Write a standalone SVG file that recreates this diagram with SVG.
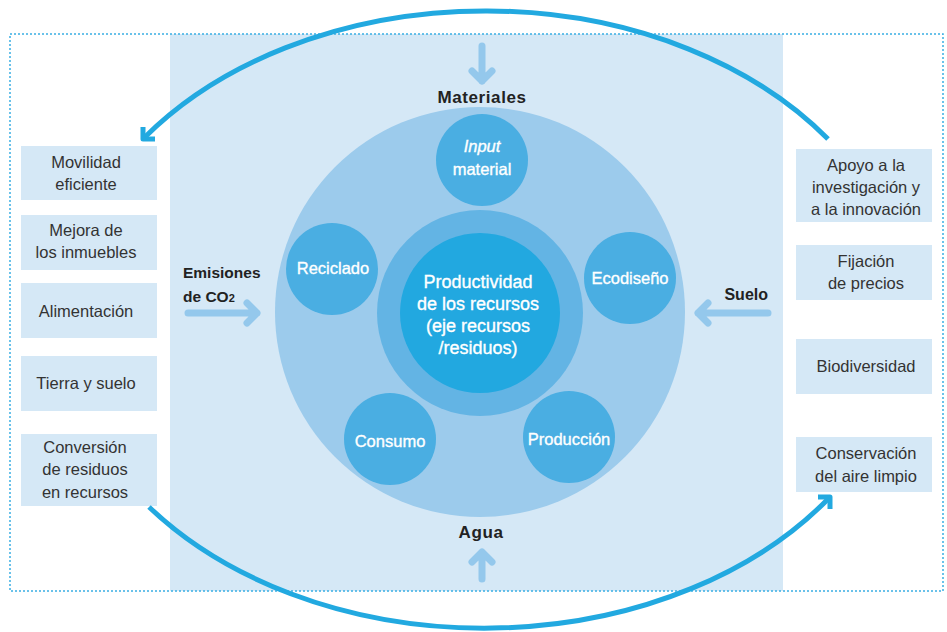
<svg xmlns="http://www.w3.org/2000/svg" width="947" height="632" viewBox="0 0 947 632">
<style>
.box{fill:#d5e8f6}
.bt{font-family:"Liberation Sans",Arial,sans-serif;font-size:16.5px;fill:#333;text-anchor:middle}
.lab{font-family:"Liberation Sans",Arial,sans-serif;font-weight:bold;fill:#222}
.sc{fill:#4aaee2}
.ct{font-family:"Liberation Sans",Arial,sans-serif;font-size:16.5px;fill:#fff;stroke:#fff;stroke-width:0.35;text-anchor:middle}
.sa{fill:none;stroke:#94c8ec;stroke-width:7;stroke-linecap:round;stroke-linejoin:round}
.ba{fill:none;stroke:#22a9e0;stroke-width:5;stroke-linecap:butt;stroke-linejoin:round}
</style>
<rect x="0" y="0" width="947" height="632" fill="#fff"/>
<rect id="bg" x="170" y="34" width="613" height="557" fill="#d5e8f6"/>
<rect id="frame" x="10" y="34" width="933" height="557" fill="none" stroke="#3aaee4" stroke-width="1.5" stroke-dasharray="2 2"/>
<g id="big-circle"><circle cx="480" cy="312" r="205" fill="#9ccbec"/></g>
<g id="ring"><circle cx="480" cy="313" r="103" fill="#63b4e4"/></g>
<g id="center">
<circle cx="480" cy="313" r="80" fill="#22a8e0"/>
<text class="ct" x="478" y="288" style="font-size:18px">Productividad</text>
<text class="ct" x="478" y="310" style="font-size:18px">de los recursos</text>
<text class="ct" x="478" y="332" style="font-size:18px">(eje recursos</text>
<text class="ct" x="478" y="354" style="font-size:18px">/residuos)</text>
</g>
<g id="input-material"><circle class="sc" cx="482" cy="160" r="46"/>
<text class="ct" x="482" y="152" font-style="italic">Input</text>
<text class="ct" x="482" y="175">material</text></g>
<g id="reciclado"><circle class="sc" cx="332" cy="269" r="46"/>
<text class="ct" x="333" y="274">Reciclado</text></g>
<g id="ecodiseno"><circle class="sc" cx="630" cy="278" r="46"/>
<text class="ct" x="630" y="284">Ecodiseño</text></g>
<g id="consumo"><circle class="sc" cx="390" cy="439" r="46"/>
<text class="ct" x="390" y="447">Consumo</text></g>
<g id="produccion"><circle class="sc" cx="569" cy="437" r="46"/>
<text class="ct" x="569" y="445">Producción</text></g>

<g id="materiales"><text class="lab" x="482" y="103" text-anchor="middle" font-size="17" letter-spacing="0.6">Materiales</text></g>
<g id="agua"><text class="lab" x="481" y="538" text-anchor="middle" font-size="17" letter-spacing="0.6">Agua</text></g>
<g id="emisiones"><text class="lab" x="183" y="278" font-size="15.5">Emisiones</text>
<text class="lab" x="183" y="302" font-size="15.5">de CO<tspan font-size="11">2</tspan></text></g>
<g id="suelo"><text class="lab" x="768" y="300" text-anchor="end" font-size="16">Suelo</text></g>

<g id="left-1"><rect class="box" x="21" y="146" width="136" height="54"/>
<text class="bt" x="86" y="168">Movilidad</text><text class="bt" x="86" y="190">eficiente</text></g>
<g id="left-2"><rect class="box" x="21" y="215" width="136" height="55"/>
<text class="bt" x="86" y="236">Mejora de</text><text class="bt" x="86" y="258">los inmuebles</text></g>
<g id="left-3"><rect class="box" x="21" y="283" width="136" height="55"/>
<text class="bt" x="86" y="317">Alimentación</text></g>
<g id="left-4"><rect class="box" x="21" y="356" width="136" height="55"/>
<text class="bt" x="86" y="389">Tierra y suelo</text></g>
<g id="left-5"><rect class="box" x="21" y="434" width="136" height="72"/>
<text class="bt" x="85" y="453">Conversión</text><text class="bt" x="85" y="475">de residuos</text><text class="bt" x="85" y="498">en recursos</text></g>

<g id="right-1"><rect class="box" x="796" y="149" width="136" height="73"/>
<text class="bt" x="866" y="171">Apoyo a la</text><text class="bt" x="866" y="193">investigación y</text><text class="bt" x="866" y="215">a la innovación</text></g>
<g id="right-2"><rect class="box" x="796" y="245" width="136" height="55"/>
<text class="bt" x="866" y="267">Fijación</text><text class="bt" x="866" y="289">de precios</text></g>
<g id="right-3"><rect class="box" x="796" y="339" width="136" height="55"/>
<text class="bt" x="866" y="372">Biodiversidad</text></g>
<g id="right-4"><rect class="box" x="796" y="437" width="136" height="55"/>
<text class="bt" x="866" y="459">Conservación</text><text class="bt" x="866" y="482">del aire limpio</text></g>

<g id="connectors">
<path class="sa" d="M482 46 V81 M472 71 L482 81 L492 71"/>
<path class="sa" d="M482 579 V552 M472 562 L482 552 L492 562"/>
<path class="sa" d="M188 313 H257 M247 303 L257 313 L247 323"/>
<path class="sa" d="M768 313 H698 M708 303 L698 313 L708 323"/>
<path class="ba" d="M828 139 A423 310 0 0 0 145 137"/>
<path class="ba" d="M143 127 V139 H155"/>
<path class="ba" d="M149 507 A423 310 0 0 0 829 498"/>
<path class="ba" d="M818 497 H830 V509"/>
</g>
</svg>
